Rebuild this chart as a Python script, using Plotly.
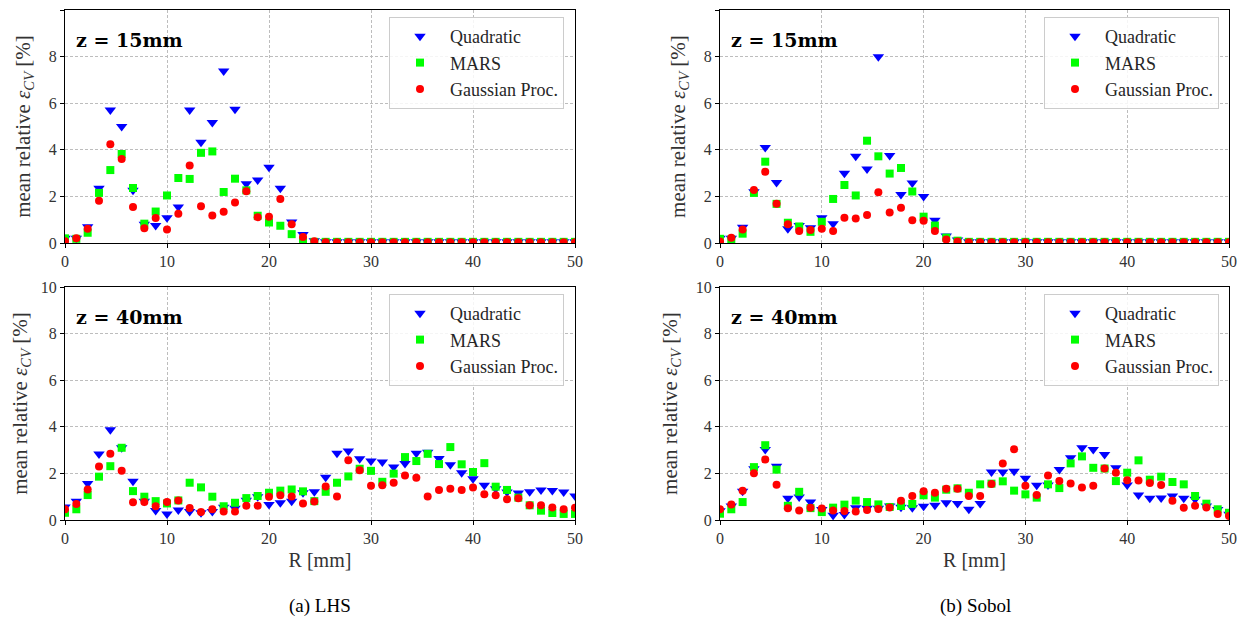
import numpy as np
import plotly.graph_objects as go

R = np.linspace(0, 50, 46)

tail = [0.05] * 23
tail_gp = [0.03] * 23

# LHS, z = 15mm
lhs15_quad = [0.2, 0.2, 0.7, 2.35, 5.71, 5.0, 2.26, 0.8, 0.75, 1.08, 1.54, 5.71, 4.32, 5.17, 7.38, 5.74,
              2.54, 2.7, 3.25, 2.35, 0.9, 0.36, 0.1] + tail
lhs15_mars = [0.2, 0.18, 0.44, 2.15, 3.13, 3.82, 2.36, 0.83, 1.35, 2.04, 2.79, 2.75, 3.87, 3.93, 2.19, 2.76,
              2.26, 1.17, 0.88, 0.74, 0.38, 0.1, 0.05] + tail
lhs15_gp = [0.08, 0.2, 0.61, 1.81, 4.24, 3.6, 1.55, 0.63, 1.07, 0.58, 1.25, 3.33, 1.58, 1.18, 1.34, 1.74,
            2.22, 1.11, 1.13, 1.89, 0.8, 0.26, 0.07] + tail_gp

# Sobol, z = 15mm
sob15_quad = [0.2, 0.2, 0.68, 2.2, 4.1, 2.6, 0.61, 0.75, 0.65, 1.08, 0.83, 2.99, 3.72, 3.18, 7.99, 3.76,
              2.08, 2.58, 2.0, 0.98, 0.3, 0.13, 0.05] + tail
sob15_mars = [0.18, 0.15, 0.4, 2.15, 3.49, 1.68, 0.87, 0.71, 0.48, 0.91, 1.89, 2.49, 2.04, 4.39, 3.72, 2.98,
              3.22, 2.21, 1.13, 0.75, 0.23, 0.1, 0.05] + tail
sob15_gp = [0.06, 0.23, 0.58, 2.28, 3.06, 1.68, 0.81, 0.51, 0.56, 0.61, 0.51, 1.08, 1.05, 1.2, 2.18, 1.31,
            1.51, 0.98, 0.95, 0.51, 0.15, 0.06, 0.03] + tail_gp

# LHS, z = 40mm
lhs40_quad = [0.56, 0.81, 1.57, 2.83, 3.87, 3.1, 1.66, 0.8, 0.41, 0.26, 0.43, 0.36, 0.31, 0.36, 0.55, 0.5,
              0.85, 1.0, 0.67, 0.74, 0.8, 1.17, 1.21, 1.83, 2.86, 2.96, 2.63, 2.53, 2.49, 2.27, 2.43, 2.86,
              2.91, 2.64, 2.37, 2.03, 1.77, 1.49, 1.34, 1.2, 1.16, 1.21, 1.29, 1.27, 1.2, 1.03]
lhs40_mars = [0.31, 0.46, 1.07, 1.86, 2.31, 3.1, 1.24, 1.0, 0.81, 0.71, 0.84, 1.6, 1.4, 1.0, 0.59, 0.74,
              0.94, 1.03, 1.17, 1.26, 1.31, 1.23, 0.81, 1.21, 1.6, 1.87, 2.2, 2.11, 1.64, 1.99, 2.7, 2.53,
              2.84, 2.4, 3.13, 2.39, 2.06, 2.44, 1.43, 1.29, 0.96, 0.63, 0.4, 0.3, 0.26, 0.26]
lhs40_gp = [0.46, 0.69, 1.31, 2.3, 2.84, 2.11, 0.76, 0.77, 0.59, 0.77, 0.84, 0.51, 0.34, 0.46, 0.36, 0.36,
            0.61, 0.61, 1.0, 1.06, 1.01, 0.71, 0.79, 1.44, 1.01, 2.56, 2.13, 1.47, 1.49, 1.6, 1.91, 1.81,
            1.01, 1.29, 1.34, 1.29, 1.4, 1.1, 1.06, 0.89, 0.93, 0.63, 0.63, 0.54, 0.46, 0.53]

# Sobol, z = 40mm
sob40_quad = [0.4, 0.6, 1.23, 2.2, 3.03, 2.31, 0.93, 0.99, 0.77, 0.45, 0.2, 0.24, 0.53, 0.5, 0.5, 0.6,
              0.55, 0.53, 0.59, 0.63, 0.74, 0.71, 0.46, 0.71, 2.06, 2.06, 2.09, 1.79, 1.49, 1.5, 2.17, 2.67,
              3.1, 3.03, 2.81, 2.24, 1.5, 1.07, 0.93, 0.94, 1.03, 0.93, 0.89, 0.6, 0.45, 0.25]
sob40_mars = [0.27, 0.46, 0.77, 2.27, 3.21, 2.16, 0.61, 1.21, 0.51, 0.34, 0.53, 0.66, 0.83, 0.77, 0.67, 0.56,
              0.6, 0.69, 1.06, 0.96, 1.3, 1.36, 1.17, 1.53, 1.56, 1.66, 1.26, 1.1, 0.96, 1.53, 1.37, 2.43,
              2.73, 2.24, 2.21, 1.67, 2.03, 2.56, 1.73, 1.86, 1.63, 1.53, 1.03, 0.7, 0.46, 0.31]
sob40_gp = [0.46, 0.67, 1.26, 2.01, 2.6, 1.51, 0.5, 0.41, 0.53, 0.49, 0.41, 0.39, 0.36, 0.43, 0.47, 0.54,
            0.83, 1.03, 1.23, 1.17, 1.34, 1.34, 1.03, 1.03, 1.54, 2.43, 3.04, 1.47, 1.07, 1.91, 1.67, 1.57,
            1.39, 1.47, 2.21, 2.03, 1.71, 1.69, 1.59, 1.5, 0.83, 0.53, 0.61, 0.54, 0.26, 0.17]

series_names = ["Quadratic", "MARS", "Gaussian Proc."]
panel_labels = ["z = 15mm", "z = 15mm", "z = 40mm", "z = 40mm"]
x_ticks = [0, 10, 20, 30, 40, 50]
y_ticks = [0, 2, 4, 6, 8, 10]
captions = ["(a) LHS", "(b) Sobol"]

panels = [
    (lhs15_quad, lhs15_mars, lhs15_gp),
    (sob15_quad, sob15_mars, sob15_gp),
    (lhs40_quad, lhs40_mars, lhs40_gp),
    (sob40_quad, sob40_mars, sob40_gp),
]

# the page body has an 8px margin; the figure is sized to fill the rest
OFF = 8
W, H = 1251 - OFF, 622 - OFF
FONT = "Liberation Serif, Times New Roman, serif"


def px(x):
    return (x - OFF) / W


def py(y):
    return 1 - (y - OFF) / H


# pixel boxes in page coordinates: (x0, x1, ytop, ybottom)
boxes = [(65, 575, 10, 243), (720, 1229, 10, 243), (65, 575, 287, 520), (720, 1229, 287, 520)]
legend_pos = [(564, 17), (1219, 17), (564, 294), (1219, 294)]

styles = [
    dict(symbol="triangle-down", color="#0000ff", size=10),
    dict(symbol="square", color="#00ff00", size=8),
    dict(symbol="circle", color="#ff0000", size=8),
]

fig = go.Figure()
layout = {}
for i, (vals, box) in enumerate(zip(panels, boxes)):
    x0, x1, yt, yb = box
    sfx = "" if i == 0 else str(i + 1)
    xa, ya = "x" + sfx, "y" + sfx
    lg = "legend" + sfx
    for name, v, st in zip(series_names, vals, styles):
        fig.add_trace(go.Scatter(
            x=R, y=v, mode="markers", name=name, xaxis=xa, yaxis=ya, legend=lg,
            marker=dict(symbol=st["symbol"], color=st["color"], size=st["size"], line=dict(width=0)),
        ))
    common = dict(showline=True, linecolor="black", linewidth=1.2, mirror=True,
                  ticks="outside", ticklen=4, tickcolor="black", automargin=False,
                  showgrid=True, gridcolor="#bdbdbd", griddash="3px,2px", gridwidth=0.8,
                  zeroline=False, tickfont=dict(family=FONT, size=16, color="#333333"))
    layout["xaxis" + sfx] = dict(domain=[px(x0), px(x1)], range=[0, 50], tickvals=x_ticks,
                                 anchor=ya, **common)
    layout["yaxis" + sfx] = dict(domain=[py(yb), py(yt)], range=[0, 10], tickvals=y_ticks,
                                 anchor=xa, **common)
    if i >= 2:
        layout["xaxis" + sfx]["title"] = dict(text="R [mm]", font=dict(family=FONT, size=20, color="#333333"),
                                              standoff=6)
    layout["yaxis" + sfx]["title"] = dict(
        text="mean relative <i>ε</i><sub><i>CV</i></sub> [%]",
        font=dict(family=FONT, size=21, color="#333333"), standoff=12)
    lx, ly = legend_pos[i]
    layout[lg] = dict(x=px(lx), y=py(ly), xanchor="right", yanchor="top",
                      bgcolor="rgba(255,255,255,0.85)", bordercolor="#cccccc", borderwidth=1,
                      font=dict(family=FONT, size=18, color="#262626"), itemwidth=50,
                      tracegroupgap=0)

fig.update_layout(**layout)

for i, lab in enumerate(panel_labels):
    sfx = "" if i == 0 else str(i + 1)
    fig.add_annotation(text="<b>" + lab + "</b>", xref=("x" + sfx) + " domain", yref=("y" + sfx) + " domain",
                       x=0.018, y=0.87, xanchor="left", yanchor="middle", showarrow=False,
                       font=dict(family="DejaVu Serif, serif", size=19, color="black"))

for cap, cx in zip(captions, [320, 975]):
    fig.add_annotation(text=cap, xref="paper", yref="paper", x=px(cx), y=py(606),
                       xanchor="center", yanchor="middle", showarrow=False,
                       font=dict(family=FONT, size=19, color="black"))

fig.update_layout(width=W, height=H, margin=dict(l=0, r=0, t=0, b=0, autoexpand=False),
                  paper_bgcolor="white", plot_bgcolor="white", showlegend=True)

fig.write_html("out.html")
